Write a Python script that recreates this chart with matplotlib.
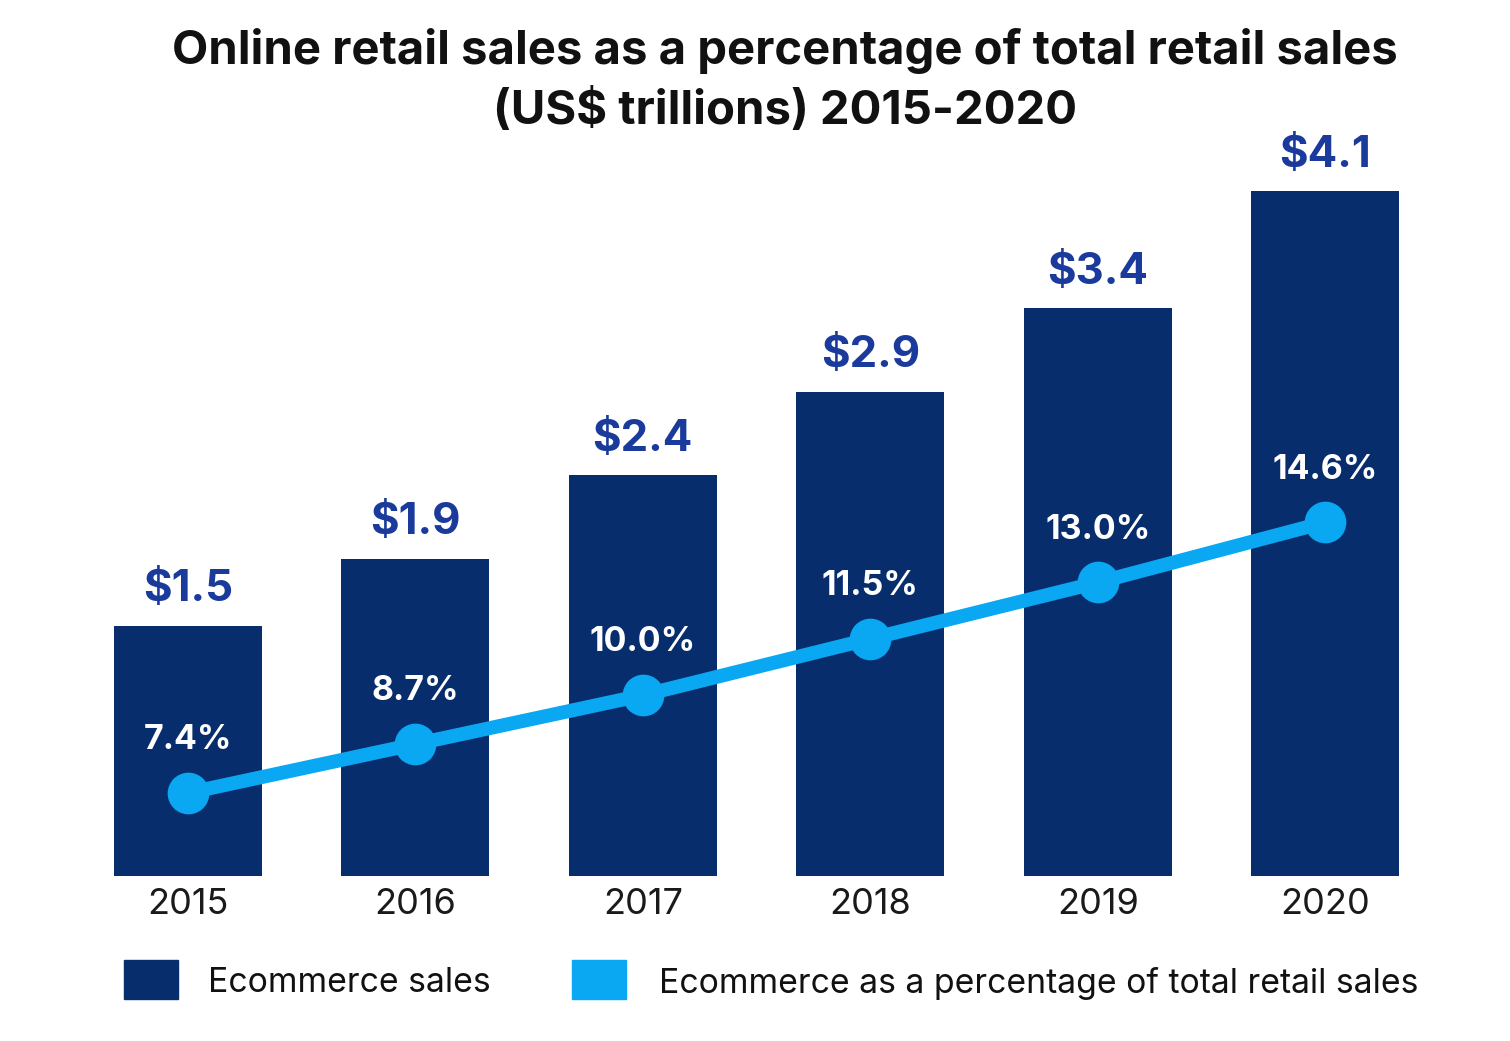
import matplotlib
matplotlib.use("Agg")
import matplotlib.pyplot as plt
from matplotlib.patches import Rectangle

years = ["2015", "2016", "2017", "2018", "2019", "2020"]
sales = [1.5, 1.9, 2.4, 2.9, 3.4, 4.1]
pct = [7.4, 8.7, 10.0, 11.5, 13.0, 14.6]
sales_labels = ["$1.5", "$1.9", "$2.4", "$2.9", "$3.4", "$4.1"]
pct_labels = ["7.4%", "8.7%", "10.0%", "11.5%", "13.0%", "14.6%"]

NAVY = "#082d6d"
LABEL_BLUE = "#1a3a9c"
SKY = "#0aa8f2"

plt.rcParams['font.family'] = ['Inter', 'DejaVu Sans']

W, H = 1510, 1041
fig = plt.figure(figsize=(W / 100, H / 100), dpi=100)
fig.patch.set_facecolor("white")

left, right, bottom, top = 74, 1439, 876, 140
ax = fig.add_axes([left / W, (H - bottom) / H, (right - left) / W, (bottom - top) / H])
x = list(range(len(years)))
ax.bar(x, sales, width=0.65, color=NAVY, zorder=2)
ax.set_xlim(-0.5, len(years) - 0.5)
ax.set_ylim(0, (bottom - top) / 167.0)
for xi, v, lab in zip(x, sales, sales_labels):
    ax.annotate(lab, (xi, v), xytext=(0, 26), textcoords="offset points",
                ha="center", va="center", fontsize=31.5, fontweight="bold", color=LABEL_BLUE)
ax.set_xticks(x)
ax.set_xticklabels(years, fontsize=26, color="#1a1a1a")
ax.tick_params(axis="x", length=0, pad=9)
ax.set_yticks([])
for s in ax.spines.values():
    s.set_visible(False)

ax2 = ax.twinx()
p0 = 7.4 - (bottom - 793) / 37.6
ax2.set_ylim(p0, p0 + (bottom - top) / 37.6)
ax2.plot(x, pct, color=SKY, linewidth=10, marker="o", markersize=29,
         solid_capstyle="round", zorder=3)
for xi, v, lab in zip(x, pct, pct_labels):
    ax2.annotate(lab, (xi, v), xytext=(0, 38), textcoords="offset points",
                 ha="center", va="center", fontsize=24.5, fontweight="bold", color="white")
ax2.set_yticks([])
for s in ax2.spines.values():
    s.set_visible(False)

fig.text(785 / W, 1 - 81 / H,
         "Online retail sales as a percentage of total retail sales\n(US$ trillions) 2015-2020",
         ha="center", va="center", fontsize=34, fontweight="bold", color="#111111",
         linespacing=1.4)

# legend
fig.patches.append(Rectangle((124 / W, 1 - 999 / H), 54 / W, 39 / H,
                             transform=fig.transFigure, color=NAVY))
fig.text(208 / W, 1 - 983 / H, "Ecommerce sales", ha="left", va="center",
         fontsize=24.3, color="#111111")
fig.patches.append(Rectangle((572 / W, 1 - 999 / H), 54 / W, 39 / H,
                             transform=fig.transFigure, color=SKY))
fig.text(659 / W, 1 - 983 / H, "Ecommerce as a percentage of total retail sales",
         ha="left", va="center", fontsize=24.3, color="#111111")

fig.savefig("out.png", dpi=100, facecolor="white")
